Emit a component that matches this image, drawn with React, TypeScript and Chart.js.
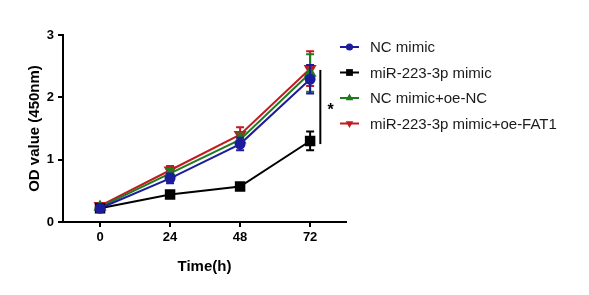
import React, { useEffect, useRef } from "react";
import { Chart, registerables } from "chart.js";

Chart.register(...registerables);

const timePoints = [0, 24, 48, 72];
const xTickValues = [0, 24, 48, 72];
const seriesLabels = [
  "NC mimic",
  "miR-223-3p mimic",
  "NC mimic+oe-NC",
  "miR-223-3p mimic+oe-FAT1",
];
const ncMimic = [0.22, 0.7, 1.25, 2.29];
const ncMimicErr = [0.03, 0.08, 0.1, 0.23];
const mirMimic = [0.22, 0.44, 0.57, 1.3];
const mirMimicErr = [0.02, 0.03, 0.05, 0.15];
const ncOeNc = [0.24, 0.78, 1.32, 2.39];
const ncOeNcErr = [0.03, 0.07, 0.1, 0.3];
const mirOeFat1 = [0.26, 0.83, 1.4, 2.46];
const mirOeFat1Err = [0.03, 0.07, 0.12, 0.28];
const bracketX = 75.5;
const bracketRange = [1.25, 2.44];
const starX = 79;
const starY = 1.83;
const yTitle = "OD value (450nm)";
const xTitle = "Time(h)";

const colors = ["#1c1c9c", "#000000", "#1e7b1e", "#c21a1f"];
const pointStyles = ["circle", "rect", "triangle", "triangle"];
const pointRotations = [0, 0, 0, 180];
const values = [ncMimic, mirMimic, ncOeNc, mirOeFat1];
const errors = [ncMimicErr, mirMimicErr, ncOeNcErr, mirOeFat1Err];
const radii = [4.5, 6, 5.5, 5.5];

const FONT = "'Liberation Sans', Arial, Helvetica, sans-serif";

const errorBarPlugin = {
  id: "errorBars",
  afterDatasetDraw(chart: any, args: any) {
    const i = args.index;
    const meta = chart.getDatasetMeta(i);
    const ys = chart.scales.y;
    const ctx = chart.ctx;
    ctx.save();
    ctx.strokeStyle = colors[i];
    ctx.lineWidth = 2;
    meta.data.forEach((pt: any, j: number) => {
      const v = values[i][j];
      const e = errors[i][j];
      const top = ys.getPixelForValue(v + e);
      const bot = ys.getPixelForValue(v - e);
      const x = pt.x;
      ctx.beginPath();
      ctx.moveTo(x, top);
      ctx.lineTo(x, bot);
      ctx.moveTo(x - 4, top);
      ctx.lineTo(x + 4, top);
      ctx.moveTo(x - 4, bot);
      ctx.lineTo(x + 4, bot);
      ctx.stroke();
    });
    ctx.restore();
  },
};

const annotationPlugin = {
  id: "annotations",
  afterDraw(chart: any) {
    const { ctx, scales, chartArea } = chart;
    const xs = scales.x;
    const ys = scales.y;
    ctx.save();
    // significance bracket
    ctx.strokeStyle = "#000";
    ctx.lineWidth = 2;
    const bx = xs.getPixelForValue(bracketX);
    ctx.beginPath();
    ctx.moveTo(bx, ys.getPixelForValue(bracketRange[0]));
    ctx.lineTo(bx, ys.getPixelForValue(bracketRange[1]));
    ctx.stroke();
    ctx.fillStyle = "#000";
    ctx.font = `bold 16px ${FONT}`;
    ctx.textAlign = "center";
    ctx.textBaseline = "middle";
    ctx.fillText("*", xs.getPixelForValue(starX), ys.getPixelForValue(starY) + 3);

    // legend
    const lx = chartArea.right - 6;
    const rowY0 = 47;
    const rowStep = 25.5;
    ctx.font = `15px ${FONT}`;
    ctx.textAlign = "left";
    seriesLabels.forEach((label, i) => {
      const y = rowY0 + i * rowStep;
      ctx.strokeStyle = colors[i];
      ctx.lineWidth = 2;
      ctx.beginPath();
      ctx.moveTo(lx, y);
      ctx.lineTo(lx + 19, y);
      ctx.stroke();
      ctx.fillStyle = colors[i];
      ctx.strokeStyle = colors[i];
      ctx.lineWidth = 1;
      (Chart as any).helpers
        ? null
        : null;
      drawMarker(ctx, pointStyles[i], radii[i] * 0.8, pointRotations[i], lx + 9.5, y);
      ctx.fillStyle = "#1a1a1a";
      ctx.textBaseline = "middle";
      ctx.fillText(label, lx + 30, y + 1);
    });
    ctx.restore();
  },
};

function drawMarker(ctx: CanvasRenderingContext2D, style: string, r: number, rot: number, x: number, y: number) {
  ctx.beginPath();
  if (style === "circle") {
    ctx.arc(x, y, r, 0, Math.PI * 2);
  } else if (style === "rect") {
    const s = Math.SQRT1_2 * r;
    ctx.rect(x - s, y - s, 2 * s, 2 * s);
  } else {
    const a = (rot * Math.PI) / 180;
    for (let k = 0; k < 3; k++) {
      const ang = a + (k * 2 * Math.PI) / 3;
      const px = x + Math.sin(ang) * r;
      const py = y - Math.cos(ang) * r;
      if (k === 0) ctx.moveTo(px, py);
      else ctx.lineTo(px, py);
    }
    ctx.closePath();
  }
  ctx.fill();
}

export default function App() {
  const ref = useRef<HTMLCanvasElement | null>(null);
  useEffect(() => {
    if (!ref.current) return;
    const chart = new Chart(ref.current, {
      type: "line",
      data: {
        datasets: seriesLabels.map((label, i) => ({
          label,
          data: timePoints.map((t, j) => ({ x: t, y: values[i][j] })),
          borderColor: colors[i],
          backgroundColor: colors[i],
          pointBackgroundColor: colors[i],
          pointBorderColor: colors[i],
          pointStyle: pointStyles[i] as any,
          pointRotation: pointRotations[i],
          pointRadius: radii[i],
          borderWidth: 2,
          tension: 0,
          clip: false as any,
        })),
      },
      options: {
        animation: false,
        responsive: true,
        maintainAspectRatio: false,
        layout: { padding: { top: 35, right: 243, bottom: 0, left: 0 } },
        plugins: { legend: { display: false }, tooltip: { enabled: false } },
        scales: {
          x: {
            type: "linear",
            min: -12.7,
            max: 84.3,
            afterBuildTicks: (scale: any) => {
              scale.ticks = xTickValues.map((v) => ({ value: v }));
            },
            afterFit: (scale: any) => {
              scale.height = 73;
            },
            grid: {
              drawOnChartArea: false,
              drawTicks: true,
              tickLength: 5,
              color: "#000",
              lineWidth: 2,
            },
            border: { color: "#000", width: 2 },
            ticks: {
              color: "#000",
              padding: 3,
              font: { family: FONT, size: 13, weight: "bold" },
              callback: (v: any) => String(v),
            },
            title: {
              display: true,
              text: xTitle,
              color: "#000",
              font: { family: FONT, size: 15, weight: "bold" },
              padding: { top: 0, bottom: 19 },
            },
          },
          y: {
            min: 0,
            max: 3,
            afterFit: (scale: any) => {
              scale.width = 63;
            },
            grid: {
              drawOnChartArea: false,
              drawTicks: true,
              tickLength: 5,
              color: "#000",
              lineWidth: 2,
            },
            border: { color: "#000", width: 2 },
            ticks: {
              stepSize: 1,
              color: "#000",
              padding: 4,
              font: { family: FONT, size: 13, weight: "bold" },
            },
            title: {
              display: true,
              text: yTitle,
              color: "#000",
              font: { family: FONT, size: 15, weight: "bold" },
              padding: { top: 26, bottom: 0 },
            },
          },
        },
      },
      plugins: [errorBarPlugin, annotationPlugin],
    });
    return () => chart.destroy();
  }, []);
  return (
    <div style={{ position: "absolute", left: 0, top: 0, width: 589, height: 295, background: "#fff" }}>
      <canvas ref={ref} />
    </div>
  );
}
